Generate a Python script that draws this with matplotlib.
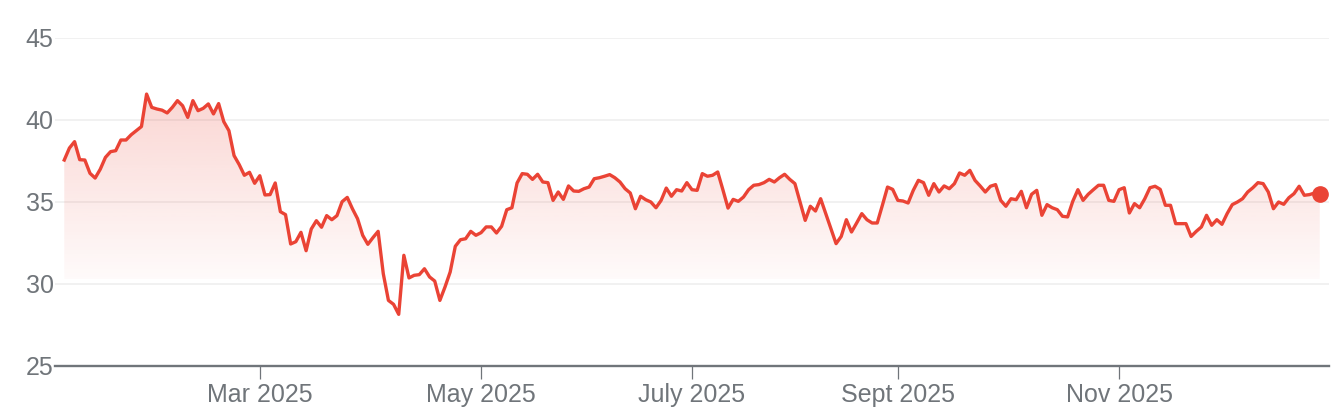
import numpy as np
import matplotlib
matplotlib.use("Agg")
import matplotlib.pyplot as plt

# ----------------------
# Data (daily closes)
# ----------------------
prices = [
    37.56, 38.29, 38.68, 37.58, 37.56, 36.75, 36.46, 37.00, 37.72, 38.07,
    38.13, 38.78, 38.78, 39.10, 39.35, 39.60, 41.58, 40.77, 40.67, 40.60,
    40.43, 40.77, 41.18, 40.87, 40.16, 41.18, 40.57, 40.71, 40.98, 40.37,
    41.00, 39.90, 39.35, 37.83, 37.28, 36.63, 36.81, 36.14, 36.60, 35.43,
    35.45, 36.16, 34.41, 34.23, 32.44, 32.58, 33.15, 32.03, 33.35, 33.86,
    33.46, 34.17, 33.92, 34.17, 35.02, 35.28,
    34.59, 33.98, 32.97, 32.42, 32.83, 33.21, 30.63, 29.00, 28.76, 28.15,
    31.75, 30.37, 30.53, 30.57, 30.93, 30.43, 30.18, 29.00, 29.82, 30.73,
    32.30, 32.70, 32.76, 33.21, 32.97, 33.13, 33.48, 33.48, 33.11, 33.52,
    34.53, 34.65, 36.16, 36.73, 36.69, 36.38, 36.69, 36.22, 36.18, 35.10,
    35.61, 35.16, 35.98, 35.67, 35.65, 35.81, 35.91, 36.42, 36.48, 36.57,
    36.67, 36.48, 36.22, 35.81, 35.55, 34.59, 35.35, 35.14, 35.00, 34.65,
    35.10, 35.85, 35.35, 35.75,
    35.67, 36.18, 35.75, 35.71, 36.73, 36.57, 36.63, 36.83, 35.75, 34.63,
    35.16, 35.04, 35.30, 35.75, 36.02, 36.06, 36.18, 36.38, 36.22, 36.48,
    36.69, 36.38, 36.12, 35.00, 33.88, 34.74, 34.45, 35.20, 34.29, 33.37,
    32.46, 32.90, 33.92, 33.17, 33.72, 34.29, 33.92, 33.72, 33.72, 34.80,
    35.91, 35.77, 35.10, 35.06, 34.94, 35.71, 36.32, 36.18, 35.41, 36.12,
    35.61, 35.98, 35.81, 36.12, 36.77, 36.63, 36.93, 36.32, 35.98, 35.61,
    35.96, 36.06, 35.10, 34.74,
    35.20, 35.14, 35.65, 34.65, 35.47, 35.71, 34.19, 34.84, 34.65, 34.53,
    34.13, 34.09, 35.04, 35.75, 35.10, 35.47, 35.75, 36.02, 36.02, 35.10,
    35.04, 35.75, 35.87, 34.33, 34.90, 34.65, 35.20, 35.87, 35.96, 35.77,
    34.80, 34.80, 33.68, 33.68, 33.68, 32.90, 33.21, 33.48, 34.19, 33.58,
    33.92, 33.64, 34.29, 34.84, 35.00, 35.20, 35.61, 35.87, 36.18, 36.12,
    35.61, 34.59, 35.00, 34.86, 35.26, 35.51, 35.96, 35.41, 35.45, 35.55,
    35.47,
]

# first trading session of each labelled month (session index)
tick_sessions = [38, 81, 122, 162, 205]
tick_labels = ["Mar 2025", "May 2025", "July 2025", "Sept 2025", "Nov 2025"]
y_ticks = [25, 30, 35, 40, 45]

red = "#ea4335"
grey = "#70757a"

plt.rcParams["font.family"] = ["Liberation Sans", "DejaVu Sans"]

x = np.arange(len(prices))
y = np.array(prices)

fig = plt.figure(figsize=(13.44, 4.2), dpi=100)
ax = fig.add_axes([55 / 1344, 1 - 366 / 420, (1329 - 55) / 1344, (366 - 38) / 420])

# ----------------------
# Gradient area under the line (fades out just above the 30 gridline)
# ----------------------
poly = ax.fill_between(x, y, 25, color="none", lw=0)
levels = np.linspace(25, 45, 400)
alpha = np.clip(0.025 + (levels - 30.3) * 0.0172, 0, 0.25)
alpha[levels < 30.3] = 0
grad = np.zeros((len(levels), 1, 4))
grad[..., 0] = 234 / 255
grad[..., 1] = 67 / 255
grad[..., 2] = 53 / 255
grad[:, 0, 3] = alpha
im = ax.imshow(grad, extent=[x[0], x[-1], 25, 45], origin="lower",
               aspect="auto", interpolation="bilinear", zorder=1)
im.set_clip_path(poly.get_paths()[0], transform=ax.transData)

# ----------------------
# Line + last-value dot
# ----------------------
ax.plot(x, y, color=red, lw=2.4, zorder=3, solid_joinstyle="round")
ax.plot(x[-1], y[-1], "o", ms=11, color=red, zorder=4)

# ----------------------
# Axes styling
# ----------------------
ax.set_xlim(-1.8, 245.8)
ax.set_ylim(25, 45)
ax.set_yticks(y_ticks)
ax.set_xticks(tick_sessions, tick_labels)
ax.yaxis.grid(True, color="#efefef", lw=1.2, zorder=0)
ax.set_axisbelow(True)
for s in ["top", "right", "left"]:
    ax.spines[s].set_visible(False)
ax.spines["bottom"].set_color(grey)
ax.spines["bottom"].set_linewidth(1.7)
ax.spines["bottom"].set_zorder(5)
ax.tick_params(axis="y", length=0, pad=1, labelsize=18, labelcolor=grey)
ax.tick_params(axis="x", length=9, width=0.9, color=grey, pad=3,
               labelsize=18, labelcolor=grey)

fig.savefig("out.png", dpi=100)
